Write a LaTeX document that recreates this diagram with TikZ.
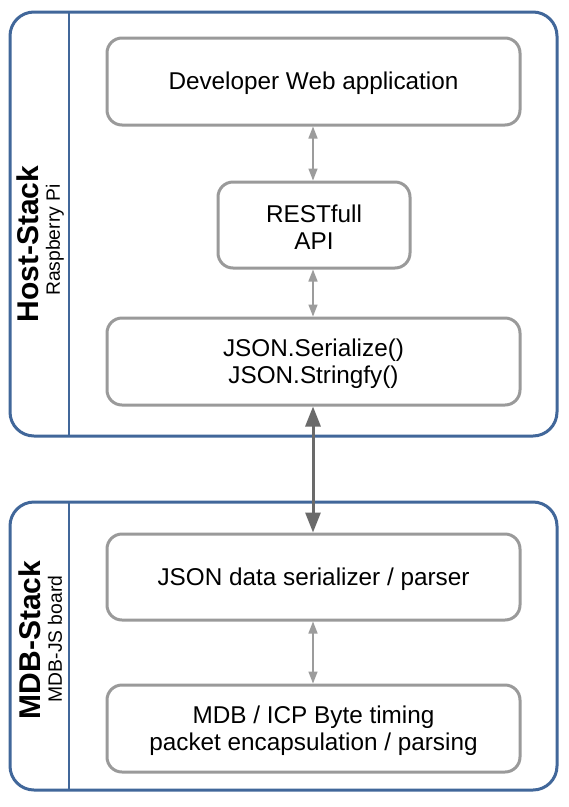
\documentclass[tikz,border=0pt]{standalone}
\usepackage{fontspec}
\setmainfont{Liberation Sans}
\usetikzlibrary{arrows.meta}
\definecolor{stackblue}{HTML}{41679A}
\definecolor{boxgray}{HTML}{9A9A9A}
\definecolor{arrowgray}{HTML}{9C9C9C}
\definecolor{bigarrow}{HTML}{6A6A6A}
\begin{document}
\begin{tikzpicture}[x=1pt,y=-1pt,
  stackbox/.style={draw=stackblue,line width=3pt,rounded corners=24pt,inner sep=0pt,minimum width=547pt},
  layerbox/.style={draw=boxgray,line width=3pt,rounded corners=15pt,inner sep=0pt,align=center,
    font=\fontsize{24.3}{26.5}\selectfont},
  layertext/.style={inner sep=0pt,align=center,font=\fontsize{24.3}{26.5}\selectfont},
  divider/.style={draw=stackblue,line width=2.5pt},
  titlelbl/.style={rotate=90,font=\fontsize{30}{31}\bfseries\selectfont,inner sep=0pt},
  sublbl/.style={rotate=90,font=\fontsize{19.3}{20}\selectfont,inner sep=0pt},
  smallarrow/.style={draw=arrowgray,line width=1.5pt,{Triangle[width=9pt,length=12pt]}-{Triangle[width=9pt,length=12pt]}},
  mainarrow/.style={draw=bigarrow,line width=3pt,{Triangle[width=15pt,length=20pt]}-{Triangle[width=15pt,length=20pt]}}
]
\useasboundingbox (0,0) rectangle (569,807);
\fill[white] (0,0) rectangle (569,807);
% outer stacks
\node[stackbox,minimum height=424pt] (host) at (283.5,224) {};
\node[stackbox,minimum height=288pt] (mdb) at (283.5,646) {};
\coordinate (hd1) at (69,12);
\coordinate (hd2) at (69,436);
\coordinate (md1) at (69,502);
\coordinate (md2) at (69,790);
\draw[divider] (hd1) -- (hd2);
\draw[divider] (md1) -- (md2);
% labels
\node[titlelbl] (hostt) at (27.5,244) {Host-Stack};
\node[sublbl] (hosts) at (55,240) {Raspberry Pi};
\node[titlelbl] (mdbt) at (29.5,640) {MDB-Stack};
\node[sublbl] (mdbs) at (55,639) {MDB-JS board};
% layers (frames)
\node[layerbox,minimum width=413pt,minimum height=87pt] (web) at (313.5,81.5) {};
\node[layerbox,minimum width=192pt,minimum height=86pt] (rest) at (314,225) {};
\node[layerbox,minimum width=413pt,minimum height=87pt] (json) at (313.5,361.5) {};
\node[layerbox,minimum width=413pt,minimum height=86pt] (ser) at (313.5,577) {};
\node[layerbox,minimum width=413pt,minimum height=87pt] (byte) at (313.5,728.5) {};
% layer texts
\node[layertext] (webt) at ([yshift=-2pt]web.center) {Developer Web application};
\node[layertext] (restt) at ([yshift=-2pt]rest.center) {RESTfull\\API};
\node[layertext] (jsont) at ([yshift=-2pt]json.center) {JSON.Serialize()\\JSON.Stringfy()};
\node[layertext] (sert) at ([yshift=-2pt]ser.center) {JSON data serializer / parser};
\node[layertext] (bytet) at ([yshift=-2pt]byte.center) {MDB / ICP Byte timing\\packet encapsulation / parsing};
% connectors
\draw[smallarrow] (web.south -| 313,0) -- (rest.north -| 313,0);
\draw[smallarrow] (rest.south -| 313,0) -- (json.north -| 313,0);
\draw[mainarrow] (json.south -| 313,0) -- (ser.north -| 313,0);
\draw[smallarrow] (ser.south -| 313,0) -- (byte.north -| 313,0);
\end{tikzpicture}
\end{document}
